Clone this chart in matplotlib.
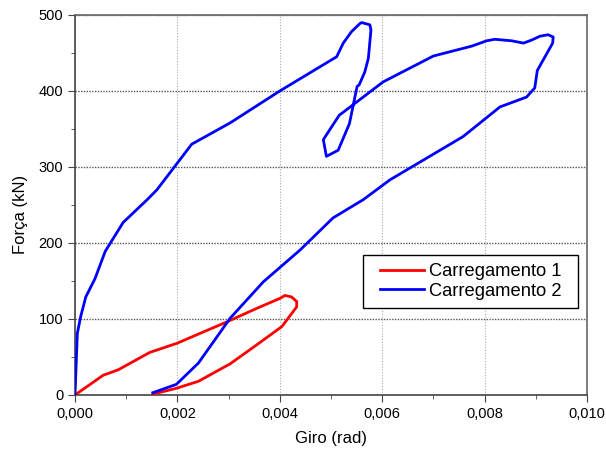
import numpy as np
import matplotlib.pyplot as plt
from matplotlib.patches import Rectangle
from matplotlib.ticker import FuncFormatter, MultipleLocator

plt.rcParams['font.family'] = ['Liberation Sans', 'DejaVu Sans']

# Carregamento 1 (red loop)
giro_1 = [0.0, 0.00055, 0.00084, 0.00146, 0.00199, 0.00244, 0.00296, 0.00355,
          0.00400, 0.00410, 0.00423, 0.00433, 0.00433, 0.00404, 0.00355,
          0.00303, 0.00241, 0.00199, 0.00152]
forca_1 = [0, 26, 33, 56, 68, 81, 96, 114,
           127, 131, 129, 123, 116, 90, 66,
           41, 18, 9, 1]

# Carregamento 2 (blue curve)
giro_2 = [0.0, 0.000045, 0.00011, 0.00021, 0.00039, 0.00059, 0.00094, 0.00141,
          0.0016, 0.00228, 0.00303, 0.0040, 0.00511, 0.00524, 0.0054, 0.00557,
          0.0056, 0.00576, 0.00578, 0.00573, 0.00566, 0.00555, 0.00551, 0.00536,
          0.00514, 0.00491, 0.00485, 0.00516, 0.00602, 0.0070, 0.00775, 0.00804,
          0.0082, 0.00853, 0.00876, 0.00892, 0.00908, 0.00924, 0.00934, 0.00933,
          0.00918, 0.00903, 0.00898, 0.00882, 0.0083, 0.00758, 0.00615, 0.00563,
          0.00504, 0.0044, 0.00368, 0.00303, 0.00241, 0.00198, 0.00152]
forca_2 = [0, 81, 103, 129, 153, 189, 227, 257,
           270, 330, 358, 400, 445, 463, 478, 489,
           490, 487, 480, 443, 425, 408, 406, 357,
           322, 314, 336, 368, 412, 446, 459, 466,
           468, 466, 463, 467, 472, 474, 471, 463,
           445, 427, 404, 392, 379, 340, 283, 257,
           233, 191, 149, 101, 42, 14, 3]

fig = plt.figure(figsize=(6.06, 4.55), dpi=100)
ax = fig.add_axes([0.1238, 0.1319, 0.8448, 0.8352])

ax.plot(giro_1, forca_1, color='#ff0000', lw=2, label='Carregamento 1', zorder=3)
ax.plot(giro_2, forca_2, color='#0000ff', lw=2, label='Carregamento 2', zorder=3)

ax.set_xlim(0, 0.010)
ax.set_ylim(0, 500)
ax.xaxis.set_major_locator(MultipleLocator(0.002))
ax.xaxis.set_minor_locator(MultipleLocator(0.001))
ax.yaxis.set_major_locator(MultipleLocator(100))
ax.yaxis.set_minor_locator(MultipleLocator(50))
ax.xaxis.set_major_formatter(FuncFormatter(lambda v, p: f'{v:.3f}'.replace('.', ',')))

ax.tick_params(which='both', direction='out', colors='#444444', labelcolor='black', labelsize=10.5)
ax.tick_params(which='major', length=5)
ax.tick_params(which='minor', length=3)

ax.grid(axis='x', which='major', color='#aaaaaa', linestyle=(0, (1, 1.5)), lw=0.8)
ax.grid(axis='y', which='major', color='#555555', linestyle=(0, (1, 1)), lw=1.0)

for side in ['left', 'bottom']:
    ax.spines[side].set_color('#444444')
    ax.spines[side].set_linewidth(1.2)
for side in ['top', 'right']:
    ax.spines[side].set_color('#666666')
    ax.spines[side].set_linewidth(1.2)

ax.set_xlabel('Giro (rad)', fontsize=12, labelpad=7)
ax.set_ylabel('Força (kN)', fontsize=12)
ax.yaxis.set_label_coords(-0.092, 0.475)

# legend box drawn separately (wider side padding than the legend's own frame)
ax.add_patch(Rectangle((0.5625, 0.229), 0.4195, 0.139, transform=ax.transAxes,
                       facecolor='white', edgecolor='black', lw=1.0, zorder=4))
leg = ax.legend(loc='center left', bbox_to_anchor=(0.5957, 0.2985), borderaxespad=0,
                borderpad=0, frameon=False, fontsize=13.2,
                handlelength=2.4, handletextpad=0.3, labelspacing=0.12)
leg.set_zorder(5)

fig.savefig('out.png', dpi=100)
